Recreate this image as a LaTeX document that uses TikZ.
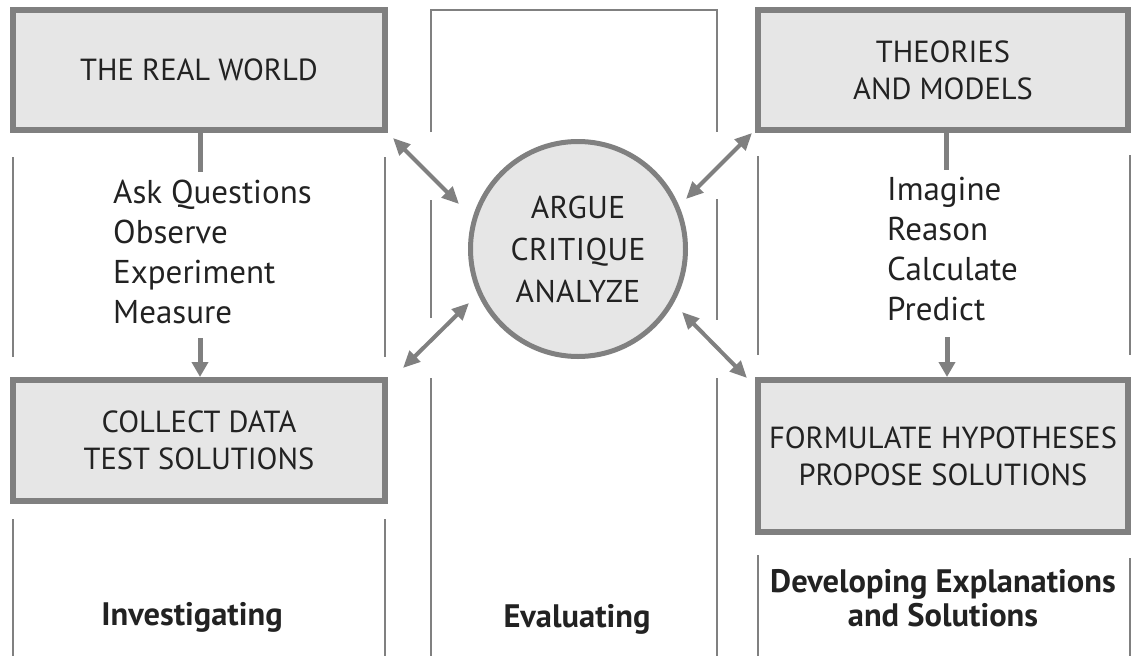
\documentclass[tikz,border=0pt]{standalone}
\usepackage{fontspec}
\setmainfont{PT Sans}
\usetikzlibrary{arrows.meta}
\definecolor{lg}{HTML}{808080}
\definecolor{fillg}{HTML}{E6E6E6}
\definecolor{txt}{HTML}{222222}
\begin{document}
\begin{tikzpicture}[x=1pt,y=-1pt,
  box/.style={draw=lg, line width=6pt, fill=fillg, inner sep=0pt, text=txt, align=center, font=\fontsize{30.5}{37}\selectfont},
  colline/.style={draw=lg, line width=2pt},
  conn/.style={draw=lg, line width=5pt},
  dbl/.style={draw=lg, line width=4pt, {Triangle[length=17pt,width=15pt]}-{Triangle[length=17pt,width=15pt]}},
  downarr/.style={draw=lg, line width=5pt, -{Triangle[length=15pt,width=16pt]}},
  item/.style={anchor=base west, text=txt, inner sep=0pt, font=\fontsize{33}{40}\selectfont},
  lbl/.style={anchor=base, text=txt, inner sep=0pt, font=\bfseries\fontsize{32.5}{34}\selectfont},
]
\useasboundingbox (0,0) rectangle (1131,656);
% column lines
\draw[colline] (13,157) -- (13,357);
\draw[colline] (385,157) -- (385,357);
\draw[colline] (13,519) -- (13,656);
\draw[colline] (385,519) -- (385,656);
\draw[colline] (431,132) -- (431,10) -- (717,10) -- (717,132);
\draw[colline] (431,200) -- (431,318);
\draw[colline] (431,378) -- (431,656);
\draw[colline] (717,199) -- (717,320);
\draw[colline] (717,378) -- (717,656);
\draw[colline] (758,156) -- (758,355);
\draw[colline] (1130,155) -- (1130,355);
\draw[colline] (758,555) -- (758,656);
\draw[colline] (1130,558) -- (1130,656);
% boxes
\node[box, minimum width=372pt, minimum height=120pt] (realworld) at (199,70) {THE REAL WORLD};
\node[box, minimum width=372pt, minimum height=121pt] (collect) at (199,440.5) {COLLECT DATA\\TEST SOLUTIONS};
\node[box, minimum width=370pt, minimum height=120pt] (theories) at (943,70) {THEORIES\\AND MODELS};
\node[box, minimum width=370pt, minimum height=152pt] (formulate) at (943,456) {FORMULATE HYPOTHESES\\PROPOSE SOLUTIONS};
\node[circle, draw=lg, line width=5pt, fill=fillg, minimum size=215pt, inner sep=0pt, align=center, text=txt, font=\fontsize{31.5}{42}\selectfont\addfontfeatures{LetterSpace=1.5}] (argue) at (578,249) {ARGUE\\CRITIQUE\\ANALYZE};
% lists
\node[item] (ask) at (113,203) {Ask Questions};
\node[item] (observe) at (113,243) {Observe};
\node[item] (experiment) at (113,283) {Experiment};
\node[item] (measure) at (113,323) {Measure};
\node[item] (imagine) at (887,200) {Imagine};
\node[item] (reason) at (887,240) {Reason};
\node[item] (calculate) at (887,280) {Calculate};
\node[item] (predict) at (887,320) {Predict};
% labels
\node[lbl] (inv) at (192,625) {Investigating};
\node[lbl] (eval) at (577,627) {Evaluating};
\node[lbl] (dev1) at (943,592) {Developing Explanations};
\node[lbl] (dev2) at (943,626) {and Solutions};
% vertical connectors
\coordinate (l1) at (200,172);
\coordinate (l2) at (200,338);
\coordinate (r1) at (946,170);
\coordinate (r2) at (947,337);
\draw[conn] (realworld.south -| l1) -- (l1);
\draw[downarr] (l2) -- (collect.north -| l2);
\draw[conn] (theories.south -| r1) -- (r1);
\draw[downarr] (r2) -- (formulate.north -| r2);
% diagonal arrows
\coordinate (a1s) at (393,138); \coordinate (a1e) at (459,204);
\coordinate (a2s) at (686,199); \coordinate (a2e) at (752,133);
\coordinate (a3s) at (403,368); \coordinate (a3e) at (469,303);
\coordinate (a4s) at (682,312); \coordinate (a4e) at (747,378);
\draw[dbl] (a1s) -- (a1e);
\draw[dbl] (a2s) -- (a2e);
\draw[dbl] (a3s) -- (a3e);
\draw[dbl] (a4s) -- (a4e);
\end{tikzpicture}
\end{document}
